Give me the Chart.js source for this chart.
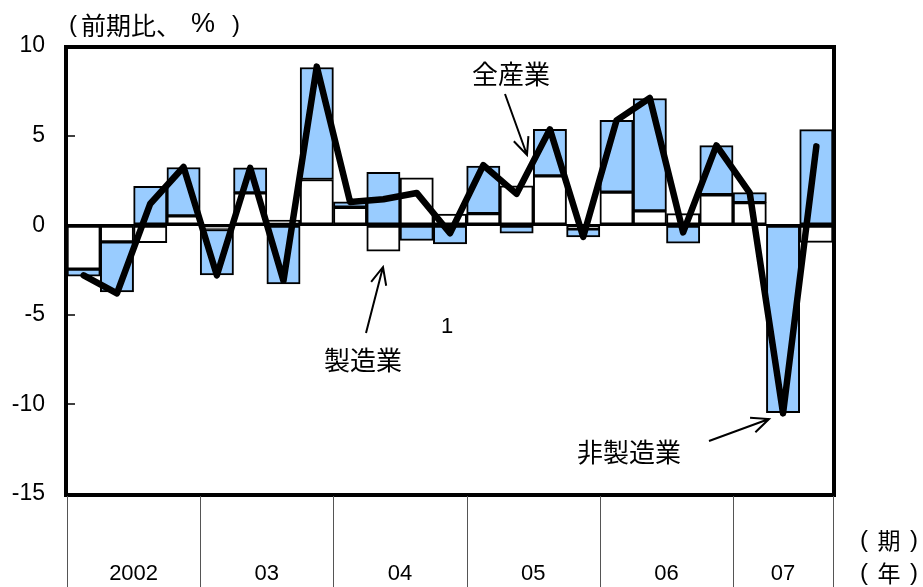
<!DOCTYPE html>
<html>
<head>
<meta charset="utf-8">
<script src="https://cdn.jsdelivr.net/npm/chart.js@4/dist/chart.umd.min.js"></script>
<style>
  html, body { margin: 0; padding: 0; background: #fff; }
</style>
</head>
<body>
<canvas id="myChart" width="923" height="587"></canvas>
<script>
// 四半期（2002年1-3月期 〜 2007年7-9月期）
const quarters = [
  '2002/1', '2002/2', '2002/3', '2002/4',
  '2003/1', '2003/2', '2003/3', '2003/4',
  '2004/1', '2004/2', '2004/3', '2004/4',
  '2005/1', '2005/2', '2005/3', '2005/4',
  '2006/1', '2006/2', '2006/3', '2006/4',
  '2007/1', '2007/2', '2007/3'
];
const yearLabels = ['2002', '03', '04', '05', '06', '07'];
const yearFirstQuarter = ['2002/1', '2003/1', '2004/1', '2005/1', '2006/1', '2007/1'];
const yearLastQuarter = ['2002/4', '2003/4', '2004/4', '2005/4', '2006/4', '2007/3'];

// 寄与度（前期比、％）
const manufacturing = [-2.45, -0.93, -0.97, 0.52, -0.24, 1.8, 0.28, 2.55, 1.0, -1.45, 2.65, 0.62,
  0.65, 2.2, 2.75, -0.2, 1.85, 0.8, 0.65, 1.7, 1.26, 0, -0.96];
const nonManufacturing = [-0.4, -2.8, 2.17, 2.7, -2.54, 1.4, -3.28, 6.25, 0.3, 2.95, -0.85, -1.05,
  2.65, -0.45, 2.6, -0.45, 4.0, 6.27, -1.0, 2.74, 0.56, -10.46, 5.33];
const allIndustry = [-2.8, -3.8, 1.2, 3.25, -2.8, 3.2, -3.1, 8.85, 1.3, 1.45, 1.8, -0.45,
  3.35, 1.75, 5.35, -0.65, 5.85, 7.1, -0.4, 4.45, 1.8, -10.5, 4.4];

const yTicks = [-15, -10, -5, 0, 5, 10];

const jpFont = '"Noto Sans CJK JP", sans-serif';
const numFont = '"Liberation Sans", Arial, sans-serif';

// 枠線・年ラベル・注記
const decorations = {
  id: 'decorations',
  afterDraw(chart) {
    const ctx = chart.ctx;
    const area = chart.chartArea;
    const x = chart.scales.x;
    const step = x.getPixelForValue(1) - x.getPixelForValue(0);

    ctx.save();
    // 外枠
    ctx.strokeStyle = '#000';
    ctx.lineWidth = 4;
    ctx.strokeRect(area.left - 1, area.top + 1, area.right - area.left + 2, area.bottom - area.top);

    // 年の区切り線と年ラベル
    ctx.strokeStyle = '#555';
    ctx.lineWidth = 1;
    ctx.fillStyle = '#000';
    ctx.font = '22px ' + numFont;
    ctx.textAlign = 'center';
    ctx.textBaseline = 'middle';
    yearLabels.forEach((lab, i) => {
      const a = x.getPixelForValue(quarters.indexOf(yearFirstQuarter[i]));
      const b = x.getPixelForValue(quarters.indexOf(yearLastQuarter[i]));
      const left = Math.round(a - step / 2) + 0.5;
      ctx.beginPath();
      ctx.moveTo(left, area.bottom + 2);
      ctx.lineTo(left, chart.height);
      ctx.stroke();
      ctx.fillText(lab, (a + b) / 2, 574);
    });
    const lastX = Math.round(x.getPixelForValue(quarters.length - 1) + step / 2) + 0.5;
    ctx.beginPath();
    ctx.moveTo(lastX, area.bottom + 2);
    ctx.lineTo(lastX, chart.height);
    ctx.stroke();

    // 単位
    ctx.font = '24px ' + numFont;
    ctx.fillText('(', 73, 25);
    ctx.fillText(')', 236, 25);
    ctx.font = '27px ' + numFont;
    ctx.fillText('%', 203, 25);
    ctx.font = '25px ' + jpFont;
    ctx.textAlign = 'left';
    ctx.fillText('前期比、', 81, 25);

    ctx.textAlign = 'center';
    [['期', 540], ['年', 573]].forEach(([t, y]) => {
      ctx.font = '24px ' + numFont;
      ctx.fillText('(', 864, y);
      ctx.fillText(')', 914, y);
      ctx.font = '23px ' + jpFont;
      ctx.fillText(t, 889, y);
    });

    ctx.font = '22px ' + numFont;
    ctx.fillText('1', 447, 327);

    // 注記ラベル
    ctx.font = '26px ' + jpFont;
    ctx.fillText('全産業', 511, 74);
    ctx.fillText('製造業', 363, 360);
    ctx.fillText('非製造業', 629, 452);

    const arrow = (x1, y1, x2, y2) => {
      const ang = Math.atan2(y2 - y1, x2 - x1);
      const len = 19, spread = 0.42;
      ctx.strokeStyle = '#000';
      ctx.lineWidth = 2;
      ctx.beginPath();
      ctx.moveTo(x1, y1);
      ctx.lineTo(x2, y2);
      ctx.moveTo(x2 - len * Math.cos(ang - spread), y2 - len * Math.sin(ang - spread));
      ctx.lineTo(x2, y2);
      ctx.lineTo(x2 - len * Math.cos(ang + spread), y2 - len * Math.sin(ang + spread));
      ctx.stroke();
    };
    arrow(505, 94, 527, 155);
    arrow(366, 333, 383, 267);
    arrow(709, 441, 769, 419);
    ctx.restore();
  }
};

new Chart(document.getElementById('myChart'), {
  type: 'bar',
  data: {
    labels: quarters,
    datasets: [
      {
        type: 'line',
        label: '全産業',
        data: allIndustry,
        borderColor: '#000',
        borderWidth: 6.5,
        borderJoinStyle: 'round',
        borderCapStyle: 'round',
        pointRadius: 0,
        tension: 0,
        fill: false,
        stack: 'total',
        order: 0
      },
      {
        label: '製造業',
        data: manufacturing,
        backgroundColor: '#ffffff',
        borderColor: '#000',
        borderWidth: 2,
        borderSkipped: false,
        stack: 'sector',
        order: 1
      },
      {
        label: '非製造業',
        data: nonManufacturing,
        backgroundColor: '#99ccff',
        borderColor: '#000',
        borderWidth: 2,
        borderSkipped: false,
        stack: 'sector',
        order: 1
      }
    ]
  },
  options: {
    responsive: false,
    animation: false,
    devicePixelRatio: 1,
    layout: { padding: { left: 0, right: 90, top: 46, bottom: 0 } },
    datasets: {
      bar: { barPercentage: 1, categoryPercentage: 1 }
    },
    plugins: {
      legend: { display: false },
      tooltip: { enabled: false }
    },
    scales: {
      x: {
        stacked: true,
        grid: { display: false },
        border: { display: false },
        ticks: { display: false },
        afterFit: s => { s.height = 93; }
      },
      y: {
        stacked: true,
        min: -15,
        max: 10,
        afterBuildTicks: s => { s.ticks = yTicks.map(v => ({ value: v })); },
        border: { display: false },
        grid: {
          color: c => (c.tick && c.tick.value === 0 ? '#000' : 'rgba(0,0,0,0)'),
          lineWidth: 2,
          drawTicks: true,
          tickLength: -8,
          tickColor: '#000',
          tickWidth: 1.5
        },
        ticks: {
          color: '#000',
          padding: 30,
          font: { family: numFont, size: 23 }
        },
        afterFit: s => { s.width = 67; }
      }
    }
  },
  plugins: [decorations]
});
</script>
</body>
</html>
